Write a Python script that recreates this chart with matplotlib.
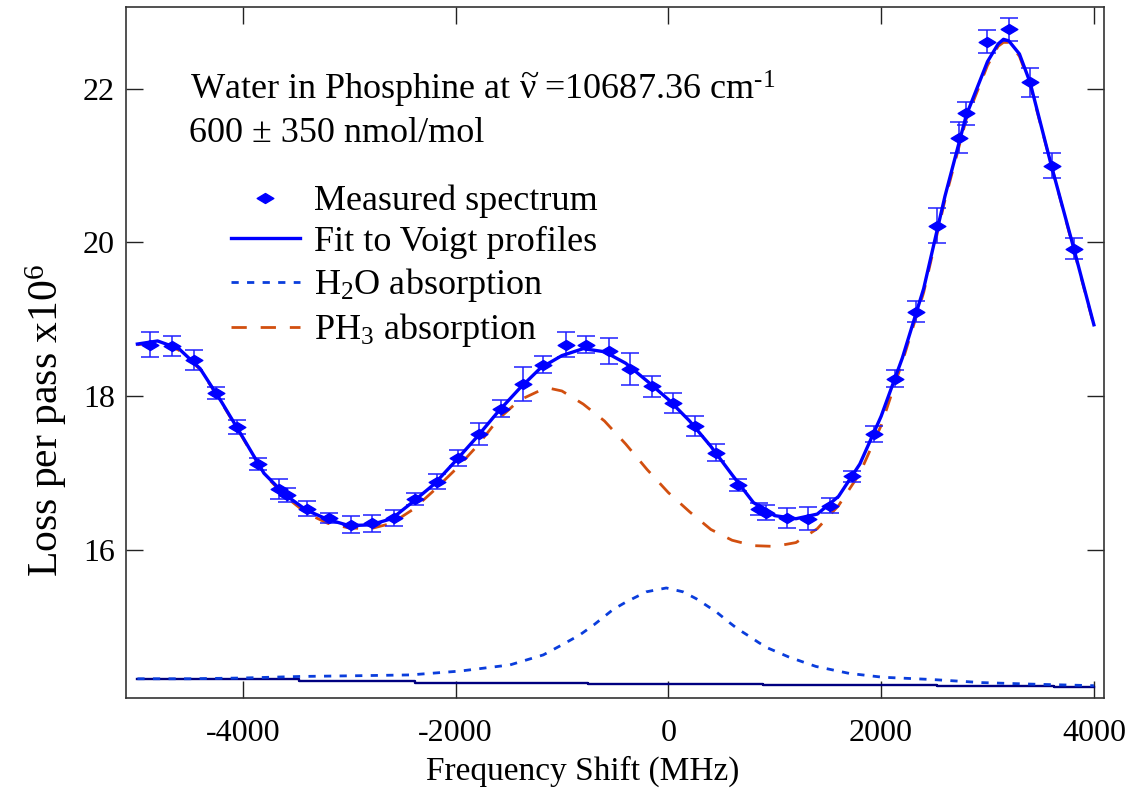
import matplotlib
matplotlib.use('Agg')
import matplotlib.pyplot as plt
from matplotlib.lines import Line2D
from matplotlib.path import Path

plt.rcParams['font.family'] = ['Liberation Serif', 'DejaVu Serif']
plt.rcParams['mathtext.fontset'] = 'custom'
plt.rcParams['mathtext.rm'] = 'Liberation Serif'
plt.rcParams['mathtext.it'] = 'Liberation Serif:italic'
plt.rcParams['mathtext.bf'] = 'Liberation Serif:bold'
plt.rcParams['axes.unicode_minus'] = False

# measured spectrum (MHz, loss x1e6) with error bars
meas_x = [-4870, -4660, -4457, -4254, -4057, -3854, -3660, -3588, -3395, -3191,
          -2982, -2785, -2582, -2379, -2176, -1972, -1775, -1575, -1363, -1175,
          -963, -769, -556, -356, -150, 44, 247, 450, 653, 856,
          919, 1113, 1310, 1519, 1725, 1929, 2129, 2326, 2525, 2731,
          2801, 2994, 3200, 3404, 3604, 3816]
meas_y = [18.67, 18.66, 18.47, 18.04, 17.60, 17.12, 16.79, 16.72, 16.54, 16.42,
          16.33, 16.35, 16.42, 16.67, 16.89, 17.20, 17.51, 17.84, 18.16, 18.41,
          18.67, 18.67, 18.59, 18.36, 18.13, 17.91, 17.62, 17.27, 16.85, 16.54,
          16.49, 16.42, 16.41, 16.58, 16.96, 17.51, 18.23, 19.10, 20.22, 21.36,
          21.68, 22.61, 22.77, 22.08, 21.00, 19.92]
meas_err = [0.16, 0.13, 0.13, 0.08, 0.09, 0.08, 0.13, 0.09, 0.10, 0.07,
            0.11, 0.11, 0.10, 0.08, 0.10, 0.10, 0.14, 0.11, 0.22, 0.11,
            0.16, 0.11, 0.17, 0.21, 0.14, 0.13, 0.13, 0.11, 0.08, 0.08,
            0.10, 0.13, 0.15, 0.10, 0.07, 0.10, 0.11, 0.14, 0.23, 0.20,
            0.15, 0.15, 0.15, 0.19, 0.16, 0.14]

# Voigt fit
fit_x = [-4990, -4800, -4600, -4400, -4200, -4000, -3800, -3600, -3400, -3200,
         -3000, -2800, -2600, -2400, -2200, -2000, -1800, -1600, -1400, -1200,
         -1000, -800, -600, -400, -200, 0, 200, 400, 600, 800,
         1000, 1200, 1400, 1600, 1800, 2000, 2200, 2400, 2600, 2800,
         3000, 3100, 3150, 3200, 3300, 3400, 3600, 3800, 4000]
fit_y = [18.68, 18.72, 18.62, 18.36, 17.93, 17.47, 17.00, 16.72, 16.52, 16.40,
         16.32, 16.33, 16.41, 16.63, 16.86, 17.16, 17.47, 17.80, 18.10, 18.37,
         18.53, 18.62, 18.58, 18.43, 18.20, 17.96, 17.68, 17.35, 16.98, 16.62,
         16.45, 16.41, 16.47, 16.70, 17.12, 17.74, 18.50, 19.40, 20.60, 21.65,
         22.35, 22.58, 22.64, 22.62, 22.45, 22.08, 21.00, 19.98, 18.93]

# PH3 component
ph3_x = [-4990, -4800, -4600, -4400, -4200, -4000, -3800, -3600, -3400, -3200,
         -3000, -2800, -2600, -2400, -2200, -2000, -1800, -1600, -1400, -1200,
         -1100, -1000, -800, -600, -400, -200, 0, 200, 400, 600,
         800, 1000, 1200, 1400, 1600, 1800, 2000, 2200, 2400, 2600,
         2800, 3000, 3100, 3150, 3200, 3300, 3400, 3600, 3800, 4000]
ph3_y = [18.67, 18.71, 18.60, 18.35, 17.92, 17.46, 16.99, 16.70, 16.48, 16.35,
         16.29, 16.28, 16.35, 16.53, 16.78, 17.05, 17.35, 17.70, 17.95, 18.08,
         18.10, 18.07, 17.90, 17.68, 17.38, 17.05, 16.75, 16.50, 16.27, 16.13,
         16.06, 16.05, 16.10, 16.28, 16.58, 17.00, 17.62, 18.45, 19.35, 20.55,
         21.60, 22.30, 22.55, 22.60, 22.60, 22.42, 22.05, 21.00, 19.96, 18.92]

# H2O component
h2o_x = [-4990, -4500, -4000, -3457, -2900, -2426, -1957, -1488, -1175, -1000,
         -832, -700, -519, -394, -206, -19, 138, 263, 450, 575,
         650, 763, 850, 935, 1137, 1388, 1700, 2013, 2482, 2951,
         3420, 4000]
h2o_y = [14.33, 14.33, 14.34, 14.36, 14.37, 14.38, 14.43, 14.51, 14.64, 14.77,
         14.90, 15.03, 15.23, 15.33, 15.46, 15.51, 15.46, 15.37, 15.20, 15.06,
         14.98, 14.88, 14.80, 14.73, 14.61, 14.49, 14.40, 14.35, 14.32, 14.28,
         14.26, 14.24]

# baseline
base_x = [-4990, -3472, -2379, -753, 888, 2529, 3623, 4000]
base_y = [14.33, 14.30, 14.28, 14.26, 14.25, 14.23, 14.22, 14.22]

blue = '#0000ff'
h2o_col = '#0a3ddc'
ph3_col = '#d24f0f'
navy = '#000080'

diamond = Path([(-1, 0), (0, 0.6), (1, 0), (0, -0.6), (-1, 0)],
               [Path.MOVETO, Path.LINETO, Path.LINETO, Path.LINETO, Path.CLOSEPOLY])

fig = plt.figure(figsize=(11.33, 7.88), dpi=100)
ax = fig.add_axes([126/1133, 1-698/788, (1104-126)/1133, (698-7)/788])

ax.plot(base_x, base_y, color=navy, lw=1.7, drawstyle='steps-post')
ax.plot(h2o_x, h2o_y, color=h2o_col, lw=2.0, linestyle=(0, (2.6, 3.0)))
ax.plot(ph3_x, ph3_y, color=ph3_col, lw=2.0, linestyle=(0, (5.5, 5.0)))
ax.errorbar(meas_x, meas_y, yerr=meas_err, fmt='none', ecolor='#1f1fff',
            elinewidth=1.1, capsize=6.5, capthick=1.1)
ax.plot(meas_x, meas_y, ls='none', marker=diamond, ms=12, color=blue)
ax.plot(fit_x, fit_y, color=blue, lw=2.4)

ax.set_xlim(-5097, 4095)
ax.set_ylim(14.08, 23.06)
ax.set_xticks([-4000, -2000, 0, 2000, 4000])
ax.set_yticks([16, 18, 20, 22])
ax.tick_params(direction='in', length=12, width=1.0, top=True, right=True,
               labelsize=23, color='#222222')
ax.tick_params(axis='x', pad=15)
ax.tick_params(axis='y', pad=8)
for s in ax.spines.values():
    s.set_linewidth(1.2)
    s.set_color('#333333')

fig.text(583/1133, 1-787/788, 'Frequency Shift (MHz)', fontsize=24,
         ha='center', va='bottom')
fig.text(46/1133, 1-420/788, r'Loss per pass x10$^6$', fontsize=30,
         ha='center', va='center', rotation=90)

ax.text(190/1133, 1-100/788,
        r'Water in Phosphine at $\widetilde{\mathrm{\nu}}$ =10687.36 cm$^{\text{-1}}$',
        transform=fig.transFigure, fontsize=26, ha='left', va='baseline')
ax.text(189/1133, 1-142/788, '600 ± 350 nmol/mol',
        transform=fig.transFigure, fontsize=26, ha='left', va='baseline')

handles = [
    Line2D([], [], ls='none', marker=diamond, ms=12, color=blue),
    Line2D([], [], color=blue, lw=2.4),
    Line2D([], [], color=h2o_col, lw=2.0, linestyle=(0, (2.6, 3.0))),
    Line2D([], [], color=ph3_col, lw=2.0, linestyle=(0, (5.5, 5.0))),
]
labels = ['Measured spectrum', 'Fit to Voigt profiles',
          r'H$_2$O absorption', r'PH$_3$ absorption']
fig.legend(handles, labels, loc='upper left', bbox_to_anchor=(231/1133, 1-185/788),
           frameon=False, fontsize=26, handlelength=1.9, handletextpad=0.4,
           labelspacing=0.2, borderpad=0, borderaxespad=0)

fig.savefig('out.png', dpi=100)
